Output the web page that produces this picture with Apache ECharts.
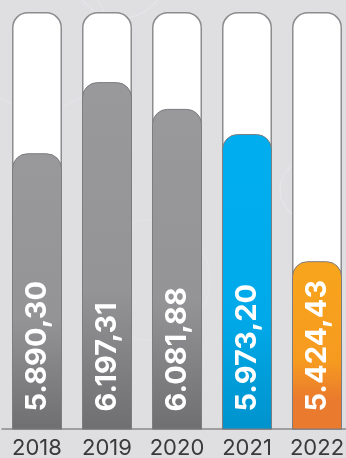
<!DOCTYPE html>
<html>
<head>
<meta charset="utf-8">
<script src="https://cdn.jsdelivr.net/npm/echarts@6/dist/echarts.min.js"></script>
<style>
  html, body { margin: 0; padding: 0; background: #dfdfe1; }
  #chart { width: 346px; height: 458px; }
</style>
</head>
<body>
<div id="chart"></div>
<script>
// Yearly totals
var years = ['2018', '2019', '2020', '2021', '2022'];
var values = [5890.30, 6197.31, 6081.88, 5973.20, 5424.43];
// Fill colours per year: [top, middle, bottom]
var fills = [
  ['#99999c', '#949497', '#6f6f72'],
  ['#99999c', '#949497', '#6f6f72'],
  ['#99999c', '#949497', '#6f6f72'],
  ['#00aeef', '#00aaea', '#0093cd'],
  ['#f8a51c', '#f69a20', '#ea7a2d']
];

var axisMin = 4700;
var axisMax = 6500;

function fmt(v) {
  var parts = v.toFixed(2).split('.');
  var intPart = parts[0].replace(/\B(?=(\d{3})+(?!\d))/g, '.');
  return intPart + ',' + parts[1];
}

var fillData = values.map(function (v, i) {
  var c = fills[i];
  return {
    value: v,
    itemStyle: {
      color: {
        type: 'linear', x: 0, y: 0, x2: 0, y2: 1,
        colorStops: [
          { offset: 0, color: c[0] },
          { offset: 0.6, color: c[1] },
          { offset: i === 4 ? 0.82 : 1, color: c[2] },
          { offset: 1, color: c[2] }
        ]
      }
    }
  };
});

var chart = echarts.init(document.getElementById('chart'), null, { renderer: 'canvas' });
chart.setOption({
  backgroundColor: '#dfdfe1',
  animation: false,
  // faint decorative swirls in the backdrop
  graphic: [
    { type: 'circle', shape: { cx: 120, cy: -30, r: 48 }, style: { fill: 'none', stroke: '#e5e5e9', lineWidth: 1.5 }, z: -10 },
    { type: 'circle', shape: { cx: 40, cy: 40, r: 70 }, style: { fill: 'none', stroke: '#e3e3e7', lineWidth: 1.2 }, z: -10 },
    { type: 'circle', shape: { cx: 310, cy: 190, r: 30 }, style: { fill: 'none', stroke: '#e5e5e9', lineWidth: 1.5 }, z: -10 },
    { type: 'circle', shape: { cx: 150, cy: 280, r: 60 }, style: { fill: 'none', stroke: '#e3e3e7', lineWidth: 1.2 }, z: -10 }
  ],
  grid: { left: 2, width: 350, top: 12, bottom: 29, containLabel: false, outerBoundsMode: 'none' },
  xAxis: {
    type: 'category',
    data: years,
    axisTick: { show: false },
    axisLine: { show: true, lineStyle: { color: '#8a8a8c', width: 1.5 } },
    axisLabel: {
      interval: 0,
      hideOverlap: false,
      color: '#3a3a3a',
      fontSize: 22,
      fontFamily: 'Inter, "Noto Sans", sans-serif',
      margin: 8
    }
  },
  yAxis: {
    type: 'value',
    min: axisMin,
    max: axisMax,
    show: false,
    splitLine: { show: false }
  },
  series: [
    {
      type: 'bar',
      barWidth: 50,
      silent: true,
      z: 1,
      data: years.map(function () { return axisMax; }),
      itemStyle: {
        color: '#ffffff',
        borderColor: '#8c8c8e',
        borderWidth: 1.5,
        borderRadius: [15, 15, 0, 0]
      }
    },
    {
      type: 'bar',
      barWidth: 50,
      barGap: '-100%',
      z: 2,
      data: fillData,
      itemStyle: {
        borderColor: '#7d7d80',
        borderWidth: 1,
        borderRadius: [15, 15, 0, 0]
      },
      label: {
        show: true,
        position: 'insideBottom',
        rotate: 90,
        align: 'left',
        verticalAlign: 'middle',
        distance: 16,
        offset: [2, 0],
        color: '#ffffff',
        fontSize: 29,
        fontWeight: 'bold',
        fontFamily: 'Inter, "Noto Sans", sans-serif',
        formatter: function (p) { return fmt(p.value); }
      }
    }
  ]
});
</script>
</body>
</html>
